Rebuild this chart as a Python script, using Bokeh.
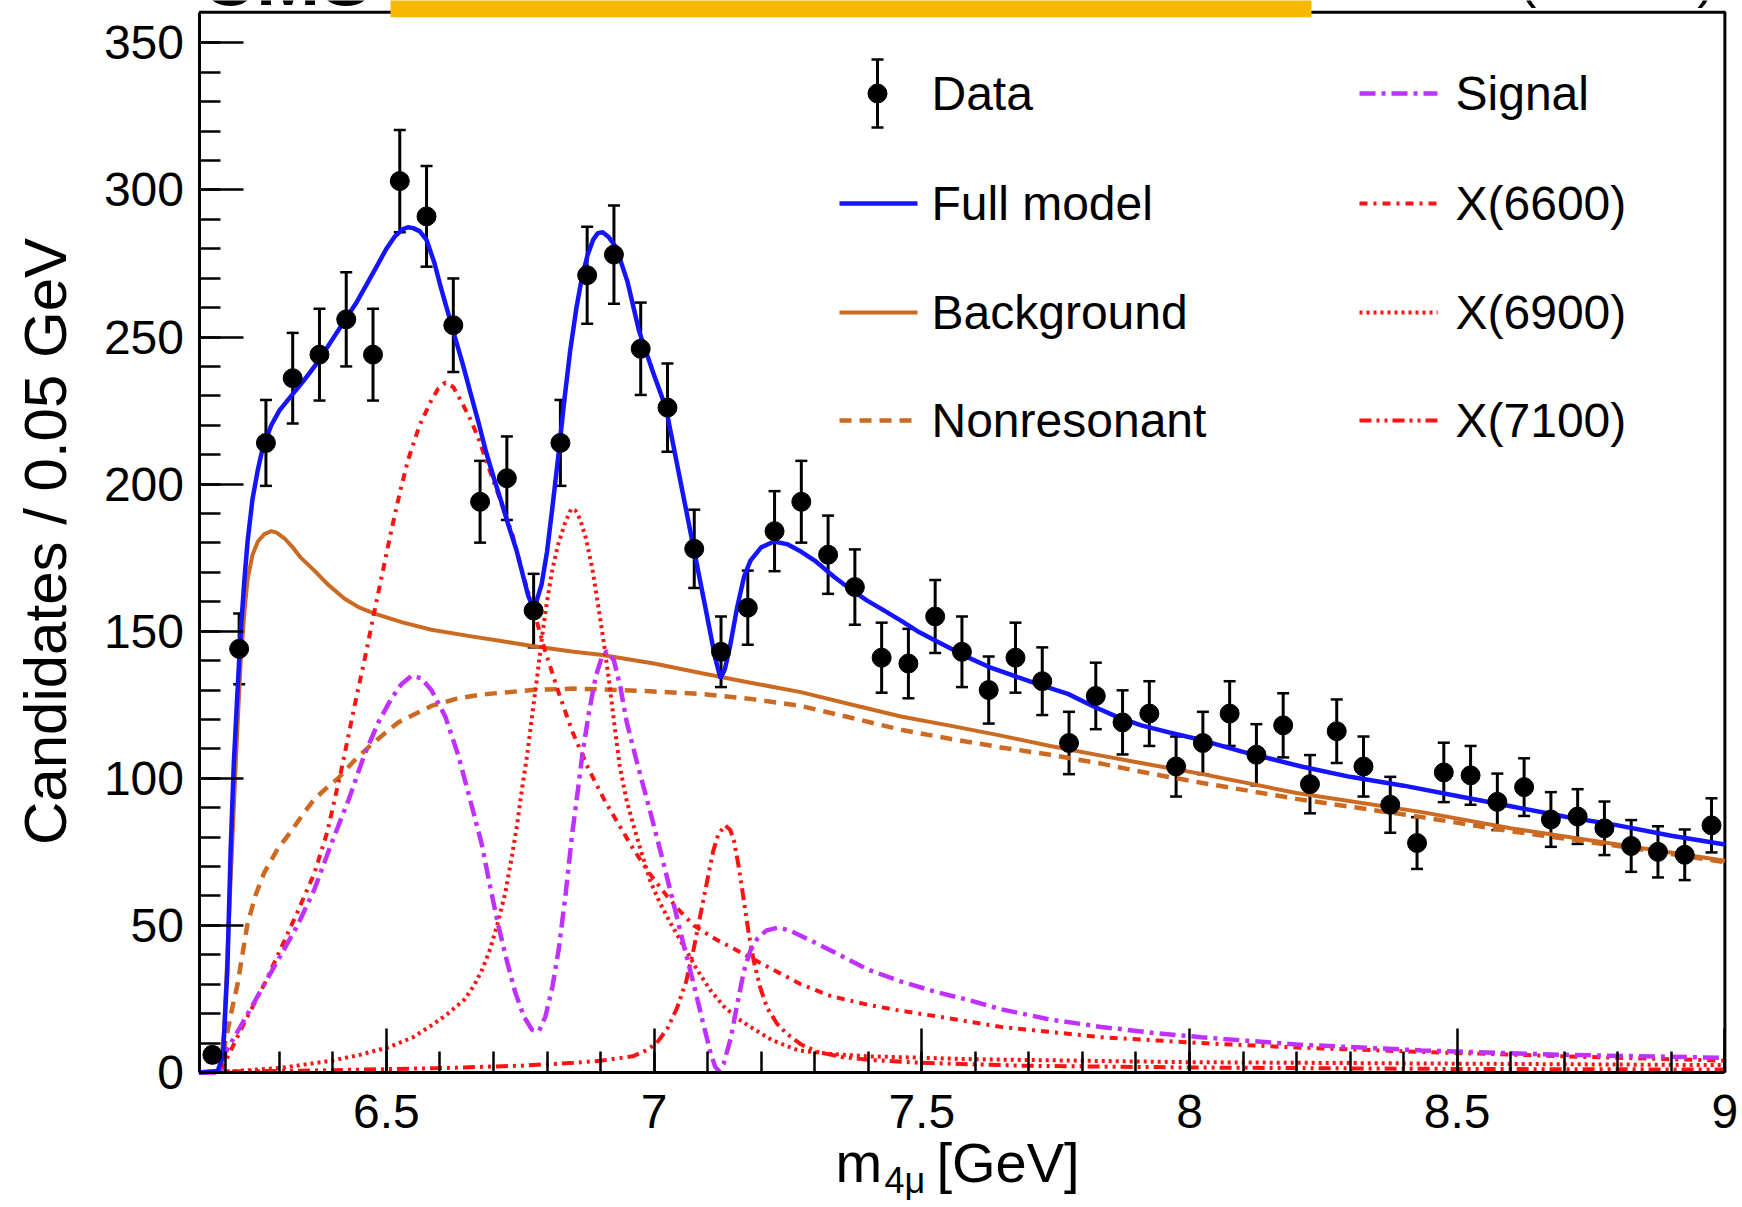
import math
from bokeh.plotting import figure
from bokeh.models import (Range1d, FixedTicker, ColumnDataSource, Whisker, TeeHead,
                          Label, BoxAnnotation)
from bokeh.core.properties import value
from bokeh.embed import file_html
from bokeh.resources import INLINE

# ---------------------------------------------------------------- data
mass = [6.175, 6.225, 6.275, 6.325, 6.375, 6.425, 6.475, 6.525, 6.575, 6.625,
        6.675, 6.725, 6.775, 6.825, 6.875, 6.925, 6.975, 7.025, 7.075, 7.125,
        7.175, 7.225, 7.275, 7.325, 7.375, 7.425, 7.475, 7.525, 7.575, 7.625,
        7.675, 7.725, 7.775, 7.825, 7.875, 7.925, 7.975, 8.025, 8.075, 8.125,
        8.175, 8.225, 8.275, 8.325, 8.375, 8.425, 8.475, 8.525, 8.575, 8.625,
        8.675, 8.725, 8.775, 8.825, 8.875, 8.925, 8.975]
counts = [6, 144, 214, 236, 244, 256, 244, 303, 291, 254,
          194, 202, 157, 214, 271, 278, 246, 226, 178, 143,
          158, 184, 194, 176, 165, 141, 139, 155, 143, 130,
          141, 133, 112, 128, 119, 122, 104, 112, 122, 108,
          118, 98, 116, 104, 91, 78, 102, 101, 92, 97,
          86, 87, 83, 77, 75, 74, 84]
errors = [2.4, 12.0, 14.6, 15.4, 15.6, 16.0, 15.6, 17.4, 17.1, 15.9,
          13.9, 14.2, 12.5, 14.6, 16.5, 16.7, 15.7, 15.0, 13.3, 12.0,
          12.6, 13.6, 13.9, 13.3, 12.8, 11.9, 11.8, 12.4, 12.0, 11.4,
          11.9, 11.5, 10.6, 11.3, 10.9, 11.0, 10.2, 10.6, 11.0, 10.4,
          10.9, 9.9, 10.8, 10.2, 9.5, 8.8, 10.1, 10.0, 9.6, 9.8,
          9.3, 9.3, 9.1, 8.8, 8.7, 8.6, 9.2]

full_x = [6.150, 6.185, 6.195, 6.203, 6.209, 6.215, 6.222, 6.228, 6.235, 6.241,
          6.250, 6.260, 6.270, 6.285, 6.300, 6.320, 6.345, 6.370, 6.395, 6.420,
          6.445, 6.465, 6.485, 6.500, 6.515, 6.530, 6.540, 6.550, 6.562, 6.575,
          6.590, 6.600, 6.614, 6.628, 6.643, 6.657, 6.672, 6.686, 6.700, 6.714,
          6.728, 6.743, 6.755, 6.765, 6.773, 6.780, 6.790, 6.800, 6.810, 6.822,
          6.832, 6.843, 6.855, 6.865, 6.876, 6.886, 6.895, 6.904, 6.915, 6.929,
          6.950, 6.972, 6.998, 7.022, 7.047, 7.072, 7.098, 7.114, 7.124, 7.132,
          7.142, 7.155, 7.168, 7.180, 7.200, 7.224, 7.250, 7.275, 7.300, 7.336,
          7.365, 7.398, 7.430, 7.461, 7.492, 7.523, 7.555, 7.585, 7.630, 7.679,
          7.725, 7.773, 7.820, 7.866, 7.910, 7.960, 8.022, 8.100, 8.209, 8.300,
          8.400, 8.500, 8.600, 8.700, 8.800, 8.900, 9.000]
full_y = [0, 0.5, 6, 35, 75, 105, 130, 150, 168, 181,
          195, 205, 213, 220, 225, 229.5, 235, 241, 248, 255,
          262, 268.5, 275, 280, 284, 286.6, 287.3, 287, 286, 283,
          275, 268, 259, 250, 240.5, 231, 221, 211, 202.5, 194.4,
          186, 177.5, 169, 162, 158.5, 160, 166, 177, 192, 211,
          228, 245, 260, 270, 278, 283, 285.3, 285.6, 284, 280.5,
          269, 252, 238, 226, 203, 180, 156, 141, 134, 137,
          145, 158, 168.5, 174, 178.5, 180.5, 179.5, 177, 174, 168.5,
          164.5, 160.4, 157, 153.6, 150, 147, 144, 141.2, 137.5, 134.4,
          131.5, 128.7, 124.5, 120.8, 118, 115.7, 113, 109, 104, 100.5,
          97.5, 94, 90.5, 87, 84, 80.5, 77.5]

bkg_x = [6.150, 6.190, 6.197, 6.203, 6.209, 6.215, 6.222, 6.228, 6.235, 6.241,
         6.250, 6.260, 6.272, 6.285, 6.295, 6.310, 6.325, 6.340, 6.366, 6.390,
         6.422, 6.450, 6.478, 6.530, 6.584, 6.650, 6.720, 6.772, 6.850, 6.900,
         7.000, 7.087, 7.180, 7.274, 7.370, 7.461, 7.550, 7.648, 7.740, 7.835,
         7.930, 8.022, 8.200, 8.434, 8.600, 8.800, 9.000]
bkg_y = [0, 0.5, 15, 40, 65, 90, 118, 140, 157, 168,
         176, 180.5, 183, 184, 183.5, 181.5, 178.5, 175, 170.5, 166,
         161, 158, 156, 153, 150.5, 148.5, 146.5, 145, 143, 142,
         139, 135.8, 132.5, 129.3, 125, 121, 118, 114.5, 111, 107.7,
         104.5, 101.5, 95, 88.5, 83, 77.5, 72]

nonres_x = [6.150, 6.190, 6.200, 6.211, 6.222, 6.240, 6.255, 6.272, 6.297, 6.322,
            6.345, 6.366, 6.390, 6.410, 6.440, 6.472, 6.522, 6.584, 6.630, 6.678,
            6.772, 6.850, 6.934, 7.000, 7.087, 7.180, 7.274, 7.370, 7.461, 7.550,
            7.648, 7.740, 7.835, 7.930, 8.022, 8.200, 8.434, 8.600, 8.800, 9.000]
nonres_y = [0, 0.5, 11, 21, 30, 50, 60, 68, 76, 82,
            88, 93, 97, 100, 106, 111.5, 119, 124.6, 127, 128.5,
            130, 130.5, 130, 129.5, 128.7, 127, 124.6, 120.5, 116.5, 113.5,
            110.5, 108, 105, 101.5, 98.5, 93, 86.8, 82, 77, 71.5]

sig_x = [6.150, 6.190, 6.195, 6.200, 6.235, 6.272, 6.300, 6.334, 6.365, 6.397,
         6.430, 6.459, 6.485, 6.509, 6.528, 6.547, 6.565, 6.584, 6.610, 6.634,
         6.656, 6.678, 6.694, 6.709, 6.725, 6.741, 6.757, 6.772, 6.785, 6.797,
         6.810, 6.822, 6.835, 6.847, 6.857, 6.866, 6.878, 6.891, 6.902, 6.912,
         6.925, 6.937, 6.949, 6.970, 6.993, 7.015, 7.036, 7.055, 7.074, 7.090,
         7.105, 7.114, 7.121, 7.130, 7.143, 7.155, 7.168, 7.180, 7.193, 7.210,
         7.230, 7.250, 7.274, 7.330, 7.399, 7.460, 7.524, 7.590, 7.648, 7.740,
         7.835, 7.930, 8.022, 8.200, 8.434, 8.700, 9.000]
sig_y = [0, 0, 5, 7, 18, 30, 39, 50, 62, 77.7,
         93, 108, 119, 127, 132, 134.8, 134, 130, 121, 108,
         93, 77.7, 63, 50, 38, 27, 19, 14.5, 14, 19,
         29, 42, 61, 81, 95, 108, 122, 134.6, 141, 143.3,
         140, 131, 119, 104, 88.5, 73, 57.7, 43.5, 30, 18,
         7, 2, 0.5, 3, 11.5, 23, 34.6, 41.5, 45.5, 48.3,
         49.2, 48.5, 46.5, 41.5, 35, 31, 27.5, 24.5, 21.5, 18,
         15.5, 13.5, 12, 9.5, 7.5, 6, 5]

x6600_x = [6.150, 6.190, 6.200, 6.235, 6.272, 6.300, 6.334, 6.366, 6.390, 6.416,
           6.441, 6.460, 6.478, 6.494, 6.509, 6.525, 6.541, 6.562, 6.584, 6.597,
           6.610, 6.625, 6.643, 6.657, 6.671, 6.693, 6.714, 6.736, 6.757, 6.772,
           6.797, 6.822, 6.847, 6.878, 6.909, 6.935, 6.961, 6.990, 7.024, 7.050,
           7.074, 7.100, 7.118, 7.150, 7.180, 7.274, 7.330, 7.399, 7.460, 7.524,
           7.648, 7.835, 8.022, 8.200, 8.434, 8.700, 9.000]
x6600_y = [0, 0, 4, 17, 30, 41, 54.6, 68, 82, 103,
           125, 141, 157, 171, 184, 197, 208.5, 220, 228.5, 232.5,
           234.5, 233, 227, 222, 216, 204.6, 194, 182.5, 168, 159,
           143, 129, 116, 103, 92, 84, 76, 68, 60, 54.5,
           50, 47, 45, 42, 39, 30, 26, 23, 21, 19.2,
           15.5, 12, 10, 8.5, 7, 5.5, 4]

x6900_x = [6.150, 6.200, 6.300, 6.397, 6.450, 6.503, 6.550, 6.584, 6.615, 6.647,
           6.665, 6.678, 6.694, 6.709, 6.722, 6.734, 6.744, 6.753, 6.763, 6.772,
           6.782, 6.791, 6.800, 6.809, 6.820, 6.834, 6.845, 6.853, 6.862, 6.872,
           6.885, 6.897, 6.907, 6.916, 6.926, 6.936, 6.948, 6.960, 6.976, 6.993,
           7.010, 7.030, 7.055, 7.080, 7.105, 7.130, 7.155, 7.180, 7.220, 7.270,
           7.330, 7.400, 7.600, 8.000, 8.500, 9.000]
x6900_y = [0, 0.3, 1.5, 4, 6, 8.5, 12, 16, 20, 25,
           30, 34.6, 42, 51.5, 61, 73, 84, 96, 108, 121,
           135, 148.5, 160, 170, 179, 187, 191.5, 191, 188, 182,
           171, 157, 145, 133, 118, 104, 93, 85, 75, 65,
           58, 51, 43, 35, 28, 22.5, 18.5, 15.5, 11, 7.5,
           6.3, 5.5, 4.5, 3.5, 3, 2.5]

x7100_x = [6.150, 6.200, 6.400, 6.600, 6.750, 6.850, 6.900, 6.960, 6.985, 7.005,
           7.025, 7.043, 7.060, 7.074, 7.087, 7.099, 7.110, 7.120, 7.133, 7.142,
           7.149, 7.158, 7.168, 7.177, 7.186, 7.198, 7.211, 7.230, 7.249, 7.275,
           7.305, 7.350, 7.399, 7.500, 7.686, 8.000, 8.500, 9.000]
x7100_y = [0, 0.3, 0.8, 1.5, 2.3, 3.3, 4, 5.5, 7.5, 10,
           15, 22, 31, 42, 54, 65, 75, 81, 84, 82.5,
           79, 70, 58, 47, 38, 29, 22, 16.5, 13, 9.5,
           7, 5.3, 4.3, 3.3, 2.3, 1.7, 1.2, 1]

x_ticks = [6.5, 7.0, 7.5, 8.0, 8.5, 9.0]
x_tick_labels = ["6.5", "7", "7.5", "8", "8.5", "9"]
y_ticks = [0, 50, 100, 150, 200, 250, 300, 350]

legend_left = ["Data", "Full model", "Background", "Nonresonant"]
legend_right = ["Signal", "X(6600)", "X(6900)", "X(7100)"]

for a, b in [(mass, counts), (mass, errors), (full_x, full_y), (bkg_x, bkg_y),
             (nonres_x, nonres_y), (sig_x, sig_y), (x6600_x, x6600_y),
             (x6900_x, x6900_y), (x7100_x, x7100_y)]:
    assert len(a) == len(b), (len(a), len(b))

# ---------------------------------------------------------------- layout
# The frame covers the whole canvas; the ROOT-style box is 6.15..9.0 x 0..Y_TOP
W, H = 1740, 1207
X_MIN, X_MAX, Y_TOP = 6.15, 9.0, 360.4
PX_X0, PX_PER_X = 198.5, 535.4     # page px of x = X_MIN, px per GeV
PX_Y0, PX_PER_Y = 1072.0, 2.942    # page px of y = 0, px per candidate
FONT = "Liberation Sans"
MID = 0.36                          # em offset of a "middle" anchor above the baseline


def dxp(px):
    """page pixel column -> data x"""
    return X_MIN + (px - PX_X0) / PX_PER_X


def dyp(py):
    """page pixel row -> data y"""
    return (PX_Y0 - py) / PX_PER_Y


p = figure(width=W, height=H,
           x_range=Range1d(dxp(0), dxp(W)), y_range=Range1d(dyp(H), dyp(0)),
           output_backend="svg", toolbar_location=None,
           min_border=0, min_border_left=0, min_border_right=0,
           min_border_top=0, min_border_bottom=0,
           background_fill_color="white", border_fill_color="white")
p.grid.visible = False
p.outline_line_color = None

# axes drawn at the box edges
p.xaxis.fixed_location = 0
p.yaxis.fixed_location = X_MIN
p.xaxis.bounds = (X_MIN, X_MAX)
p.yaxis.bounds = (0, Y_TOP)
for ax in (p.xaxis[0], p.yaxis[0]):
    ax.axis_line_width = 3
    ax.major_tick_in = 44
    ax.major_tick_out = 0
    ax.minor_tick_in = 21
    ax.minor_tick_out = 0
    ax.major_tick_line_width = 2.5
    ax.minor_tick_line_width = 2.5
    ax.major_label_text_font = FONT
    ax.major_label_text_font_size = "48px"
    ax.major_label_text_color = "black"

p.xaxis.ticker = FixedTicker(ticks=x_ticks,
                             minor_ticks=[round(6.2 + 0.1 * i, 1) for i in range(29)])
p.xaxis.major_label_overrides = dict(zip(x_ticks, x_tick_labels))
p.xaxis.major_label_standoff = 22
p.yaxis.ticker = FixedTicker(ticks=y_ticks, minor_ticks=list(range(0, 351, 10)))
p.yaxis.major_label_standoff = 15

# top / right edges of the box
p.line([X_MIN, X_MAX, X_MAX], [Y_TOP, Y_TOP, 0], line_color="black", line_width=3)

# styles
BLUE, ORANGE, VIOLET, RED = "#1414ff", "#cc6a22", "#c030ff", "#ff1212"
styles = {
    "Full model": dict(line_color=BLUE, line_width=4.5),
    "Background": dict(line_color=ORANGE, line_width=4),
    "Nonresonant": dict(line_color=ORANGE, line_width=4.5, line_dash="12 8"),
    "Signal": dict(line_color=VIOLET, line_width=4.5, line_dash="16 6 4 6"),
    "X(6600)": dict(line_color=RED, line_width=4, line_dash="8 6 3 6"),
    "X(6900)": dict(line_color=RED, line_width=4, line_dash="3 4"),
    "X(7100)": dict(line_color=RED, line_width=4, line_dash="12 5 3 5 3 5"),
}

# curves
p.line(bkg_x, bkg_y, **styles["Background"])
p.line(nonres_x, nonres_y, **styles["Nonresonant"])
p.line(x7100_x, x7100_y, **styles["X(7100)"])
p.line(x6900_x, x6900_y, **styles["X(6900)"])
p.line(x6600_x, x6600_y, **styles["X(6600)"])
p.line(sig_x, sig_y, **styles["Signal"])
p.line(full_x, full_y, **styles["Full model"])

# data with error bars
src = ColumnDataSource(dict(x=mass, y=counts,
                            upper=[c + e for c, e in zip(counts, errors)],
                            lower=[c - e for c, e in zip(counts, errors)]))


def err_bars(source):
    return Whisker(source=source, base="x", upper="upper", lower="lower",
                   line_color="black", line_width=3,
                   upper_head=TeeHead(size=12, line_width=2.5, line_color="black"),
                   lower_head=TeeHead(size=12, line_width=2.5, line_color="black"))


p.add_layout(err_bars(src))
p.scatter("x", "y", source=src, size=19, color="black")

# ---------------------------------------------------------------- legend
row_py = [93, 203, 312, 420]
col1_line, col1_text, data_px = (839, 917), 931, 877
col2_line, col2_text = (1359, 1437), 1455

leg_src = ColumnDataSource(dict(x=[dxp(data_px)], y=[dyp(row_py[0])],
                                upper=[dyp(59)], lower=[dyp(127)]))
p.add_layout(err_bars(leg_src))
p.scatter("x", "y", source=leg_src, size=19, color="black")

for name, py in zip(legend_left[1:], row_py[1:]):
    p.line([dxp(col1_line[0]), dxp(col1_line[1])], [dyp(py), dyp(py)], **styles[name])
for name, py in zip(legend_right, row_py):
    p.line([dxp(col2_line[0]), dxp(col2_line[1])], [dyp(py), dyp(py)], **styles[name])

p.text(x=[dxp(col1_text)] * 4 + [dxp(col2_text)] * 4,
       y=[dyp(v) for v in row_py] * 2,
       text=legend_left + legend_right,
       text_font=value(FONT), text_font_size="48px", text_color="black",
       text_align="left", text_baseline="middle")


def label(text, px, py_base, size, align="left", angle=0.0, bold=False):
    """text whose baseline sits at page row py_base (or column px for vertical text)"""
    if angle:
        x, y = dxp(px - MID * size), dyp(py_base)
    else:
        x, y = dxp(px), dyp(py_base - MID * size)
    p.add_layout(Label(x=x, y=y, text=text, angle=angle, text_font=FONT,
                       text_font_size=f"{size}px", text_color="black",
                       text_font_style="bold" if bold else "normal",
                       text_align=align, text_baseline="middle"))


# ---------------------------------------------------------------- axis titles
label("Candidates / 0.05 GeV", 67, 541, 60, align="center", angle=math.pi / 2)
label("m", 835, 1182, 56)
label("4μ", 884, 1193, 36)
label("[GeV]", 936, 1182, 56)

# ---------------------------------------------------------------- header (cut off at top)
label("CMS", 200, 5, 77, bold=True)
label("(13 TeV)", 1715, -3, 52, align="right")
p.add_layout(BoxAnnotation(left=dxp(390), right=dxp(1311), bottom=dyp(16.7), top=dyp(-5),
                           fill_color="#f7b900", fill_alpha=1.0, line_alpha=0,
                           level="overlay"))

open("out.html", "w").write(file_html(p, INLINE))
